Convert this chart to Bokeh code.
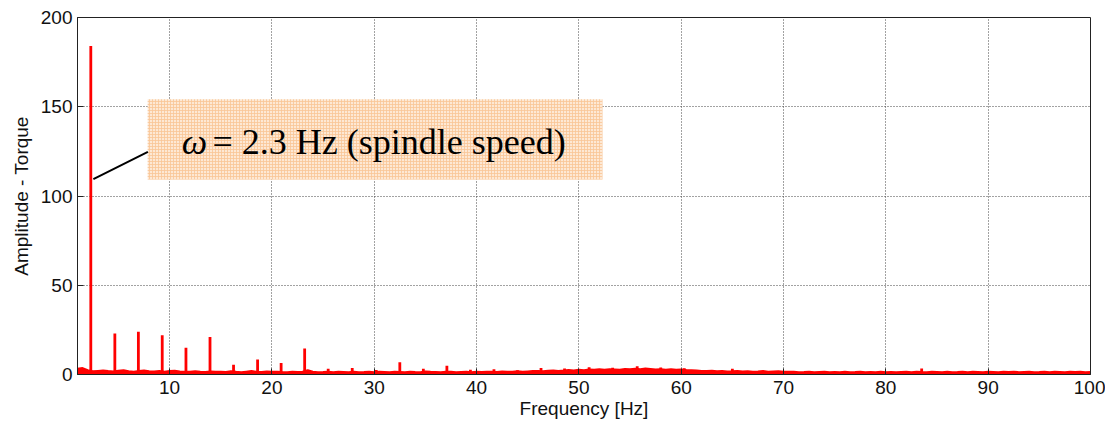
import numpy as np
from bokeh.plotting import figure
from bokeh.models import (ColumnDataSource, Range1d, FixedTicker,
                          BoxAnnotation, Label)
from bokeh.embed import file_html
from bokeh.resources import INLINE

# ---------------- data ----------------
# spectrum noise floor, sampled every 0.5 Hz from 1 Hz to 100 Hz
noise_freq = np.arange(1.0, 100.01, 0.5)
noise_amp = [
    3.2, 3.6, 2.4, 1.8, 2.0, 2.2, 1.9, 1.7, 2.1, 2.4, 1.8, 1.6, 1.9, 2.2, 1.8, 1.7, 2.0, 1.6, 1.9, 2.1,
    1.7, 1.5, 1.6, 1.8, 1.5, 1.4, 1.7, 1.5, 1.6, 1.4, 1.8, 1.5, 1.3, 1.6, 1.9, 1.5, 1.4, 1.7, 1.5, 1.6,
    1.4, 1.3, 1.6, 1.4, 1.5, 2.4, 1.5, 1.3, 1.4, 1.6, 1.3, 1.5, 1.4, 1.2, 1.5, 1.3, 1.4, 1.6, 1.3, 1.5,
    1.4, 1.2, 1.5, 1.4, 1.3, 1.6, 1.4, 1.3, 1.7, 1.5, 1.4, 1.2, 1.5, 1.6, 1.3, 1.4, 1.5, 1.3, 1.6, 1.4,
    1.5, 1.6, 1.4, 1.7, 1.5, 1.6, 1.8, 1.5, 1.7, 1.9, 2.0, 1.8, 2.1, 2.3, 2.0, 2.2, 2.5, 2.3, 2.6, 2.4,
    2.8, 2.6, 2.9, 2.7, 3.0, 2.8, 2.6, 3.1, 2.9, 3.2, 3.0, 3.3, 3.1, 2.8, 3.0, 2.7, 2.9, 2.6, 2.8, 2.5,
    2.4, 2.2, 2.0, 1.9, 2.1, 1.8, 1.9, 1.7, 1.8, 2.0, 1.7, 1.8, 1.6, 1.7, 1.9, 1.6, 1.7, 1.8, 1.5, 1.6,
    1.5, 1.3, 1.4, 1.6, 1.3, 1.4, 1.5, 1.3, 1.4, 1.2, 1.5, 1.3, 1.4, 1.6, 1.3, 1.4, 1.2, 1.5, 1.3, 1.4,
    1.3, 1.4, 1.5, 1.3, 1.6, 1.4, 1.3, 1.5, 1.4, 1.2, 1.5, 1.3, 1.4, 1.6, 1.3, 1.5, 1.4, 1.3, 1.5, 1.4,
    1.3, 1.5, 1.4, 1.6, 1.3, 1.4, 1.5, 1.3, 1.4, 1.6, 1.3, 1.5, 1.4, 1.3, 1.5, 1.4, 1.6, 1.3, 1.4,
]

# spectral peaks (spindle speed 2.3 Hz and its harmonics, plus isolated spikes)
peak_freq = [2.3, 4.65, 6.95, 9.28, 11.6, 13.95, 16.25, 18.6, 20.9, 23.2, 25.5, 27.85,
             30.2, 32.5, 34.8, 37.1, 39.4, 41.7, 44.0, 46.3, 48.6, 51.0, 53.3, 55.7,
             58.0, 60.3, 65.0, 83.5]
peak_amp = [184, 23, 24, 22, 15, 21, 5.4, 8.4, 6.5, 14.6, 3.2, 3.7,
            2.5, 6.9, 3.2, 4.9, 2.6, 3.0, 2.4, 3.6, 3.4, 4.0, 3.8, 4.6,
            3.9, 3.5, 3.2, 3.3]

x_ticks = [10, 20, 30, 40, 50, 60, 70, 80, 90, 100]
y_ticks = [0, 50, 100, 150, 200]

annotation_symbol = "\u03c9"
annotation_text = "= 2.3 Hz (spindle speed)"

# ---------------- figure ----------------
FONT = "Liberation Sans"
p = figure(width=1105, height=422, output_backend="svg", toolbar_location=None,
           x_range=Range1d(1, 100), y_range=Range1d(0, 200),
           min_border_left=77, min_border_right=15, min_border_top=17, min_border_bottom=48)
p.background_fill_color = "white"
p.border_fill_color = "white"
p.outline_line_color = "#222222"
p.outline_line_width = 1

# noise floor as filled band + line
noise_src = ColumnDataSource(dict(f=noise_freq, a=noise_amp, z=np.zeros(len(noise_amp))))
p.varea(x="f", y1="z", y2="a", source=noise_src, fill_color="#FF0000")
p.line(x="f", y="a", source=noise_src, line_color="#FF0000", line_width=2)

# peaks as vertical lines
peak_src = ColumnDataSource(dict(f=peak_freq, a=peak_amp, z=[0] * len(peak_freq)))
p.segment(x0="f", y0="z", x1="f", y1="a", source=peak_src, line_color="#FF0000", line_width=2.8)

# axes
for ax in (p.xaxis[0], p.yaxis[0]):
    ax.major_tick_in = 6
    ax.major_tick_out = 0
    ax.minor_tick_in = 0
    ax.minor_tick_out = 0
    ax.major_label_text_font = FONT
    ax.major_label_text_font_size = "19px"
    ax.major_label_text_color = "#111111"
    ax.axis_label_text_font = FONT
    ax.axis_label_text_font_size = "19px"
    ax.axis_label_text_font_style = "normal"
    ax.axis_label_text_color = "#111111"
    ax.axis_line_color = "#222222"
    ax.major_tick_line_color = "#222222"
p.xaxis[0].ticker = FixedTicker(ticks=x_ticks)
p.yaxis[0].ticker = FixedTicker(ticks=y_ticks)
p.xaxis[0].axis_label = "Frequency [Hz]"
p.yaxis[0].axis_label = "Amplitude - Torque"
p.xaxis[0].major_label_standoff = 6
p.yaxis[0].major_label_standoff = 5
p.xaxis[0].axis_label_standoff = 1
p.yaxis[0].axis_label_standoff = 6

# grid
p.xgrid.ticker = FixedTicker(ticks=x_ticks)
p.ygrid.ticker = FixedTicker(ticks=y_ticks)
for g in (p.xgrid[0], p.ygrid[0]):
    g.grid_line_color = "#444444"
    g.grid_line_dash = "1 2"
    g.grid_line_width = 1

# annotation
box = BoxAnnotation(left=7.86, right=52.3, bottom=109.2, top=154.2,
                    fill_color="#FDE8D4", fill_alpha=1.0,
                    hatch_pattern="+", hatch_color="#F9C596", hatch_scale=3,
                    hatch_weight=0.8, hatch_alpha=1.0,
                    line_color=None, level="underlay")
p.add_layout(box)
p.line(x=[2.55, 7.88], y=[109.4, 124.7], line_color="black", line_width=2)

p.add_layout(Label(x=11.2, y=130, text=annotation_symbol, text_font="Liberation Serif",
                   text_font_style="italic", text_font_size="36px", text_color="black",
                   text_baseline="alphabetic"))
p.add_layout(Label(x=14.2, y=130, text=annotation_text, text_font="Liberation Serif",
                   text_font_size="36px", text_color="black", text_baseline="alphabetic"))

open("out.html", "w").write(file_html(p, INLINE))
